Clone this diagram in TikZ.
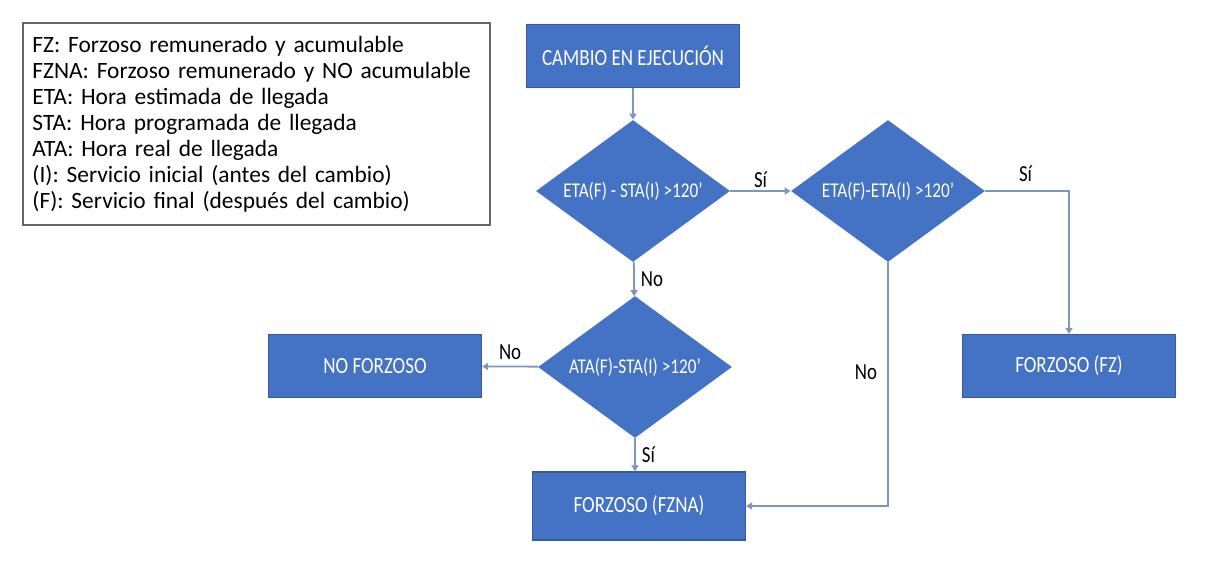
\documentclass[tikz,border=0pt]{standalone}
\usepackage{fontspec}
\setmainfont{Carlito}
\newfontfamily\narrowfont[FakeStretch=0.82]{Carlito}
\usetikzlibrary{shapes.geometric,arrows.meta}
\definecolor{boxblue}{HTML}{4472C4}
\definecolor{linegray}{HTML}{7F95BD}
\newcommand{\rtexto}[1]{\makebox[0pt]{#1}}
\begin{document}
\begin{tikzpicture}[x=0.5pt,y=-0.5pt,
    caja/.style={rectangle,fill=boxblue,draw=boxblue!80!black,line width=0.6pt,
        text=white,font=\narrowfont\fontsize{11.6}{13}\selectfont,
        minimum width=106.5pt,minimum height=31.5pt,inner sep=0pt},
    rombo/.style={diamond,fill=boxblue,text=white,inner sep=0pt,
        font=\narrowfont\fontsize{10.5}{12}\selectfont,
        minimum width=97pt,minimum height=71pt},
    flecha/.style={draw=linegray,line width=0.9pt,-{Triangle[length=3pt,width=3.5pt]}},
    etiqueta/.style={font=\narrowfont\fontsize{11.5}{13}\selectfont,text=black,inner sep=1pt}]
    \useasboundingbox (0,0) rectangle (1205,564);
    % leyenda
    \node[draw=black!60,line width=0.7pt,minimum width=233.5pt,minimum height=101pt,
          text width=224pt,align=left,inner sep=0pt,
          font=\fontsize{11.7}{13}\selectfont] (leyenda) at (256.5,124)
        {FZ: Forzoso remunerado y acumulable\\
         FZNA: Forzoso remunerado y NO acumulable\\
         ETA: Hora estimada de llegada\\
         STA: Hora programada de llegada\\
         ATA: Hora real de llegada\\
         (I): Servicio inicial (antes del cambio)\\
         (F): Servicio final (después del cambio)};
    % cajas
    \node[caja] (cambio) at (633,56) {CAMBIO EN EJECUCIÓN};
    \node[rombo] (d1) at (633,191) {\rtexto{ETA(F) - STA(I) >120’}};
    \node[rombo] (d2) at (888,191) {\rtexto{ETA(F)-ETA(I) >120’}};
    \node[rombo] (d3) at (635,367) {\rtexto{ATA(F)-STA(I) >120’}};
    \node[caja] (noforz) at (375,366) {NO FORZOSO};
    \node[caja] (fz) at (1069,366) {FORZOSO (FZ)};
    \node[caja,minimum height=34pt] (fzna) at (639,506) {FORZOSO (FZNA)};
    % conectores
    \draw[flecha] (cambio) -- (d1);
    \draw[flecha] (d1) -- node[etiqueta,above] {Sí} (d2);
    \draw[flecha] (d2.east) -| node[etiqueta,above,pos=0.24,yshift=3pt] {Sí} (fz.north);
    \draw[flecha] (d1) -- node[etiqueta,right,xshift=2pt] {No} (d3);
    \draw[flecha] (d3) -- node[etiqueta,above,yshift=2pt] {No} (noforz);
    \draw[flecha] (d3.south) -- node[etiqueta,right,xshift=2pt] {Sí} (d3.south |- fzna.north);
    \draw[flecha] (d2.south) |- node[etiqueta,left,pos=0.225,xshift=-4pt] {No} (fzna.east);
\end{tikzpicture}
\end{document}
